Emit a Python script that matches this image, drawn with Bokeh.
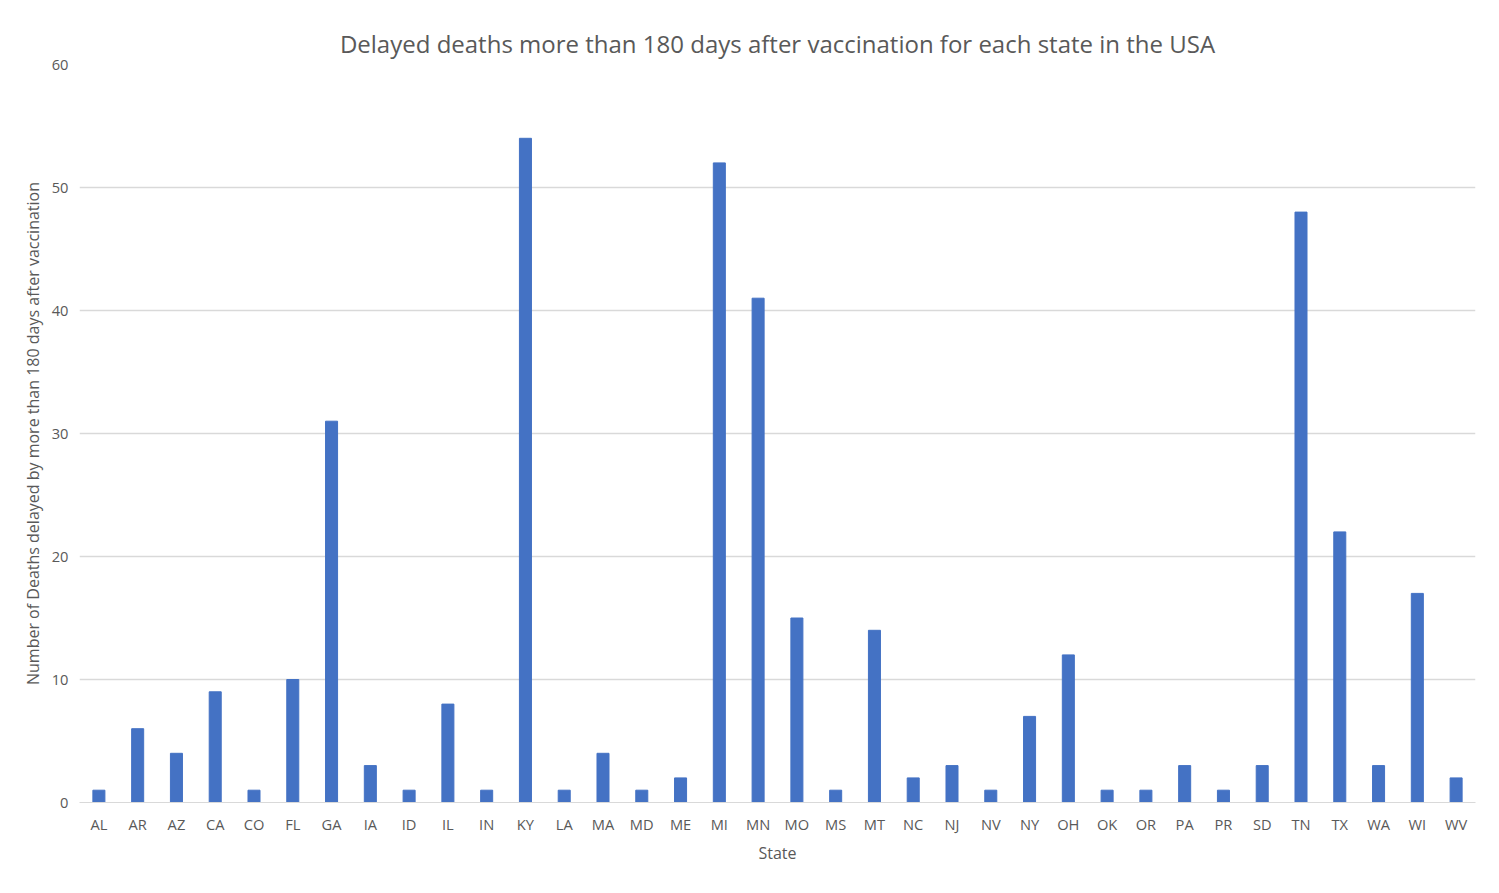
from bokeh.plotting import figure
from bokeh.embed import file_html
from bokeh.resources import INLINE
from bokeh.models import Range1d

states = ["AL","AR","AZ","CA","CO","FL","GA","IA","ID","IL","IN","KY","LA","MA","MD","ME","MI","MN","MO","MS","MT","NC","NJ","NV","NY","OH","OK","OR","PA","PR","SD","TN","TX","WA","WI","WV"]
deaths = [1,6,4,9,1,10,31,3,1,8,1,54,1,4,1,2,52,41,15,1,14,2,3,1,7,12,1,1,3,1,3,48,22,3,17,2]

p = figure(x_range=states, width=1483, height=877, output_backend="svg", toolbar_location=None,
           title="Delayed deaths more than 180 days after vaccination for each state in the USA",
           min_border_left=79, min_border_right=8, min_border_top=64, min_border_bottom=75)
p.y_range = Range1d(0, 60)
p.vbar(x=states, top=deaths, width=0.31, color="#4472C4")
p.title.align = "center"
p.title.text_font = "Open Sans"
p.title.text_font_size = "18pt"
p.title.text_font_style = "normal"
p.title.text_color = "#595959"
p.outline_line_color = None
p.xgrid.grid_line_color = None
p.ygrid.grid_line_color = "#d9d9d9"
p.ygrid.grid_line_width = 1.3
p.yaxis.ticker = [0, 10, 20, 30, 40, 50, 60]
p.yaxis.axis_line_color = None
p.xaxis.axis_line_color = "#d9d9d9"
for ax in (p.xaxis, p.yaxis):
    ax.major_tick_line_color = None
    ax.minor_tick_line_color = None
    ax.major_label_text_font = "Open Sans"
    ax.major_label_text_font_size = "11pt"
    ax.major_label_text_color = "#595959"
    ax.axis_label_text_font = "Open Sans"
    ax.axis_label_text_font_size = "12pt"
    ax.axis_label_text_font_style = "normal"
    ax.axis_label_text_color = "#595959"
p.xaxis.axis_label = "State"
p.yaxis.axis_label = "Number of Deaths delayed by more than 180 days after vaccination"

open("out.html", "w").write(file_html(p, INLINE))
